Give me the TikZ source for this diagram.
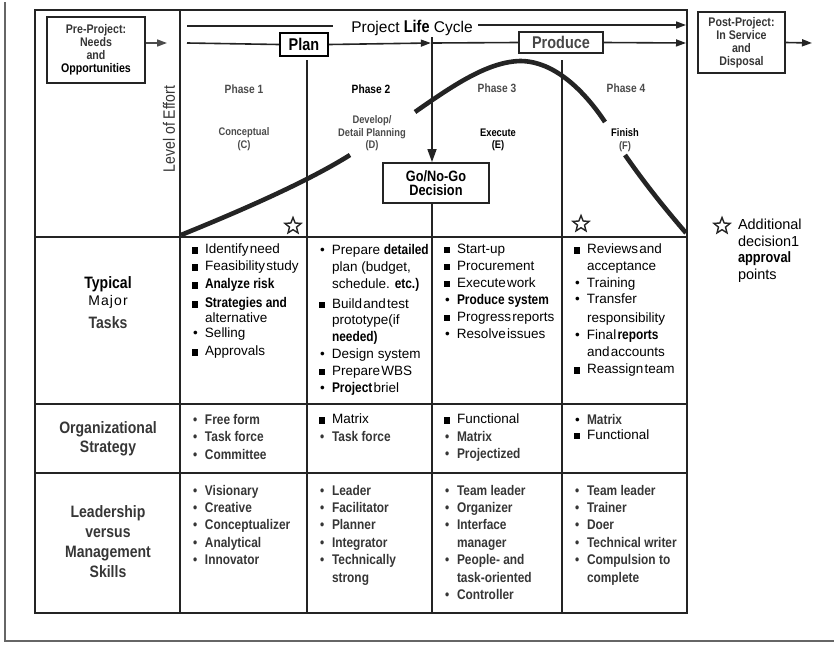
\documentclass[tikz,border=0pt]{standalone}
\usepackage{fontspec}
\setmainfont{Liberation Sans}
\newfontfamily\cnd[FakeStretch=0.85]{Liberation Sans}
\newfontfamily\spaced[LetterSpace=8]{Liberation Sans}
\usetikzlibrary{shapes.geometric,arrows.meta}

\definecolor{ink}{HTML}{363636}
\definecolor{pale}{HTML}{4B4B4B}
\definecolor{rulec}{HTML}{242424}

% tight word gap, condensed bold inline text, bullets
\newcommand\tsp{\kern1.3pt}
\newcommand\cbf[1]{{\cnd\bfseries\fontsize{14}{17}\selectfont#1}}
\newcommand\plain[1]{{\normalfont\fontsize{13.5}{17}\selectfont\color{black}#1}}
\newcommand\bsq{\makebox[13pt][l]{\rule[0.2pt]{6.2pt}{6.2pt}}}
\newcommand\bdt{\makebox[13pt][l]{\hspace{1pt}\textbullet}}
\newcommand\bno{\hspace*{13pt}}

\begin{document}
\begin{tikzpicture}[x=1pt,y=-1pt,
  tx/.style={inner sep=0pt, outer sep=0pt},
  % place a multi-line node by the baseline of its first line
  firstbase/.style={anchor=north west, yshift=#1, execute at begin node={\rule{0pt}{#1}}},
  firstbasec/.style={anchor=north, yshift=#1, execute at begin node={\rule{0pt}{#1}}},
  cellbody/.style={tx, firstbase=12pt, align=left, font=\fontsize{13.5}{17}\selectfont, text=black},
  leadcell/.style={tx, firstbase=12pt, align=left, font=\cnd\bfseries\fontsize{14}{17.4}\selectfont, text=ink},
  rowhead/.style={tx, anchor=base, align=center, font=\cnd\bfseries\fontsize{16.5}{20}\selectfont, text=ink},
  phaselabel/.style={tx, anchor=base, align=center, font=\cnd\bfseries\fontsize{12}{12}\selectfont, text=pale},
  sublabel/.style={tx, firstbasec=10pt, align=center, font=\cnd\bfseries\fontsize{11}{12.3}\selectfont, text=pale},
  gridline/.style={draw=rulec, line width=1.8pt},
  frameline/.style={draw=rulec, line width=2.6pt},
  flow/.style={draw=rulec, line width=1.6pt, -{Triangle[length=10pt,width=7pt]}},
  effort/.style={draw=rulec, line width=4.6pt},
  decstar/.style={star, star points=5, star point ratio=2.3, draw=rulec, line width=1.4pt, minimum size=17pt, inner sep=0pt},
  stagebox/.style={draw=rulec, line width=1.8pt, inner sep=0pt, align=center}
]
\useasboundingbox (0,0) rectangle (834,645);

% page edge
\coordinate (pgTL) at (4.5,2);
\coordinate (pgBL) at (4.5,641);
\coordinate (pgBR) at (834,641);
\draw[draw=black!60, line width=2pt] (pgTL) -- (pgBL) -- (pgBR);

% table grid
\draw[frameline] (35,10) rectangle (687,613);
\draw[gridline] (180,10) -- (180,613);
\draw[gridline] (35,237) -- (687,237);
\draw[gridline] (35,404) -- (687,404);
\draw[gridline] (35,473) -- (687,473);
\draw[gridline] (307,60) -- (307,613);
\draw[gridline] (562,60) -- (562,613);

% stage boxes
\node[stagebox, minimum width=98pt, minimum height=66pt, text=ink,
      font=\cnd\bfseries\fontsize{12.5}{13}\selectfont] (pre) at (96,50)
      {Pre-Project:\\Needs\\and\\\textcolor{black}{Opportunities}};
\node[stagebox, minimum width=87pt, minimum height=61pt, text=ink,
      font=\cnd\bfseries\fontsize{12.5}{13}\selectfont] (post) at (741.5,42.5)
      {Post-Project:\\In Service\\and\\Disposal};
\node[stagebox, draw=black, line width=2.4pt, minimum width=48pt, minimum height=23pt,
      font=\cnd\bfseries\fontsize{17}{17}\selectfont] (plan) at (304,44.5) {Plan};
\node[stagebox, minimum width=84pt, minimum height=21pt, text=black!72,
      font=\cnd\bfseries\fontsize{17}{17}\selectfont] (produce) at (561,42.5) {Produce};
\node[stagebox, minimum width=106pt, minimum height=40pt, text=black,
      font=\cnd\bfseries\fontsize{15}{14}\selectfont] (gonogo) at (436,183) {Go/No-Go\\Decision};
\node[tx, fill=rulec, minimum width=2.4pt, minimum height=13pt] (tick) at (432,43) {};

% project life cycle bar
\node[tx, anchor=base, font=\fontsize{15.5}{16}\selectfont] (plc) at (412,32)
      {Project {\cnd\bfseries\fontsize{17}{17}\selectfont Life} Cycle};
\coordinate (lcStart1) at (187,26);
\coordinate (lcMidA) at (333,26);
\coordinate (lcMidB) at (478,25);
\coordinate (lcEnd1) at (686,25);
\coordinate (lcStart2) at (187,43);
\coordinate (lcEnd2) at (686,43);
\coordinate (preOut) at (167,43);
\coordinate (postOut) at (812,43);
\coordinate (colC) at (432,613);

\draw[draw=rulec, line width=1.6pt] (lcStart1) -- (lcMidA);
\draw[flow] (lcMidB) -- (lcEnd1);
\draw[draw=rulec, line width=1.6pt] (lcStart2) -- (plan.west);
\draw[flow] (plan.east) -- (tick.west);
\draw[draw=rulec, line width=1.6pt] (tick.east) -- (produce.west);
\draw[flow] (produce.east) -- (lcEnd2);
\draw[flow, draw=pale] (pre.east |- preOut) -- (preOut);
\draw[flow] (post.east) -- (postOut);
\draw[draw=rulec, line width=1.6pt, -{Triangle[length=13pt,width=9pt]}] (tick.south) -- (tick.south |- gonogo.north);
\draw[gridline] (tick.south |- gonogo.south) -- (colC);

% level of effort axis and phases
\node[tx, rotate=90, font=\cnd\fontsize{16.5}{17}\selectfont, text=ink] (loe) at (169,129) {Level of Effort};
\node[phaselabel] (ph1) at (244,93) {Phase 1};
\node[phaselabel, text=black] (ph2) at (371,93) {Phase 2};
\node[phaselabel] (ph3) at (497,92) {Phase 3};
\node[phaselabel] (ph4) at (626,92) {Phase 4};
\node[sublabel] (c1) at (244,138) {Conceptual\\(C)};
\node[sublabel] (c2) at (372,126) {Develop/\\Detail Planning\\(D)};
\node[sublabel, text=black] (c3) at (498,139) {Execute\\(E)};
\node[sublabel, text=black] (c4) at (625,139) {Finish\\\textcolor{pale}{(F)}};

% effort curve
\draw[effort] (181,235) .. controls (250,207) and (310,180) .. (350,155);
\draw[effort] (415,112) .. controls (455,84) and (488,62) .. (520,61)
              .. controls (555,61) and (585,92) .. (605,122);
\draw[effort] (625,155) .. controls (648,188) and (668,212) .. (686,233);

% decision points
\node[decstar] (s1) at (293,226) {};
\node[decstar] (s4) at (581,224) {};
\node[decstar] (s5) at (722,226) {};
\node[cellbody, font=\fontsize{14.5}{16.5}\selectfont] (legend) at (738,231)
      {Additional\\decision1\\{\cnd\bfseries\fontsize{15}{16}\selectfont approval}\\points};

% row headers
\node[rowhead, text=black] (hTyp) at (108,288) {Typical};
\node[tx, anchor=base, font=\spaced\fontsize{14}{14}\selectfont] (hMaj) at (108,305) {Major};
\node[rowhead] (hTask) at (108,328) {Tasks};
\node[rowhead, firstbasec=14pt, font=\cnd\bfseries\fontsize{16.5}{19}\selectfont] (hOrg) at (108,436) {Organizational\\Strategy};
\node[rowhead, firstbasec=14pt] (hLead) at (108,520) {Leadership\\versus\\Management\\Skills};

% typical major tasks
\node[cellbody] (t1) at (192,256)
  {\bsq Identify\tsp need\\
   \bsq Feasibility\tsp study\\[1pt]
   \bsq \cbf{Analyze risk}\\[2pt]
   \bsq \cbf{Strategies and}\\[-2pt]
   \bno alternative\\[-2pt]
   \bdt Selling\\[1pt]
   \bsq Approvals};
\node[cellbody] (t2) at (319,256)
  {\bdt Prepare \cbf{detailed}\\
   \bno plan (budget,\\
   \bno schedule. \cbf{etc.)}\\[3pt]
   \bsq Build\tsp and\tsp test\\[-1pt]
   \bno prototype(if\\
   \bno \cbf{needed)}\\
   \bdt Design system\\
   \bsq Prepare\tsp WBS\\
   \bdt \cbf{Project}\tsp briel};
\node[cellbody] (t3) at (444,256)
  {\bsq Start-up\\
   \bsq Procurement\\
   \bsq Execute\tsp work\\
   \bdt \cbf{Produce system}\\
   \bsq Progress\tsp reports\\
   \bdt Resolve\tsp issues};
\node[cellbody] (t4) at (574,256)
  {\bsq Reviews\tsp and\\
   \bno acceptance\\
   \bdt Training\\[-1pt]
   \bdt Transfer\\[2pt]
   \bno responsibility\\
   \bdt Final\tsp\cbf{reports}\\
   \bno and\tsp accounts\\
   \bsq Reassign\tsp team};

% organizational strategy
\node[leadcell, font=\cnd\bfseries\fontsize{14}{17.5}\selectfont] (o1) at (192,426)
  {\bdt Free form\\\bdt Task force\\\bdt Committee};
\node[leadcell, font=\cnd\bfseries\fontsize{14}{17.5}\selectfont] (o2) at (319,426)
  {\plain{\bsq Matrix}\\\bdt Task force};
\node[leadcell, font=\cnd\bfseries\fontsize{14}{17.5}\selectfont] (o3) at (444,426)
  {\plain{\bsq Functional}\\\bdt Matrix\\\bdt Projectized};
\node[leadcell, font=\cnd\bfseries\fontsize{14}{17.5}\selectfont] (o4) at (574,426)
  {\plain{\bdt}Matrix\\[-2.5pt]\plain{\bsq Functional}};

% leadership versus management skills
\node[leadcell] (l1) at (192,497)
  {\bdt Visionary\\\bdt Creative\\\bdt Conceptualizer\\\bdt Analytical\\\bdt Innovator};
\node[leadcell] (l2) at (319,497)
  {\bdt Leader\\\bdt Facilitator\\\bdt Planner\\\bdt Integrator\\\bdt Technically\\\bno strong};
\node[leadcell] (l3) at (444,497)
  {\bdt Team leader\\\bdt Organizer\\\bdt Interface\\\bno manager\\\bdt People- and\\\bno task-oriented\\\bdt Controller};
\node[leadcell] (l4) at (574,497)
  {\bdt Team leader\\\bdt Trainer\\\bdt Doer\\\bdt Technical writer\\\bdt Compulsion to\\\bno complete};
\end{tikzpicture}
\end{document}
